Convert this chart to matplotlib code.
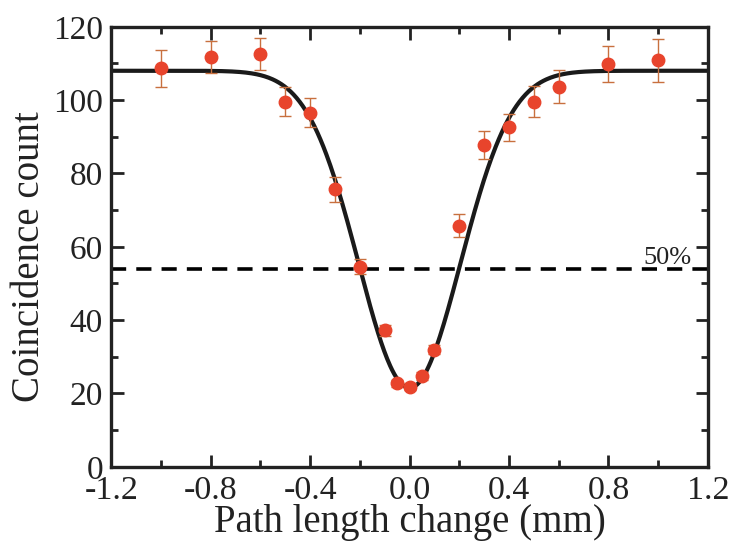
import numpy as np
import matplotlib
matplotlib.use("Agg")
import matplotlib.pyplot as plt
from matplotlib.ticker import MultipleLocator

plt.rcParams['font.family'] = ['Liberation Serif', 'DejaVu Serif']

# measured coincidence counts
path_mm = [-1.0, -0.8, -0.6, -0.5, -0.4, -0.3, -0.2, -0.1, -0.05, 0.0, 0.05, 0.1,
           0.2, 0.3, 0.4, 0.5, 0.6, 0.8, 1.0]
counts = [108.7, 111.7, 112.6, 99.6, 96.6, 75.7, 54.6, 37.2, 22.8, 21.9, 24.8, 31.9,
          65.8, 87.7, 92.6, 99.6, 103.7, 109.8, 110.8]
errors = [5.0, 4.4, 4.4, 3.9, 4.0, 3.4, 2.0, 1.5, 1.0, 1.0, 1.0, 1.2,
          3.2, 3.8, 3.7, 4.2, 4.4, 4.9, 5.9]

# gaussian dip fit parameters
fit_base = 108.0
fit_depth = 86.5
fit_center = 0.0
fit_sigma = 0.205
half_level = 54.0

red = '#E8442C'
err_color = '#C8703E'
ink = '#222222'

fig = plt.figure(figsize=(7.32, 5.46), dpi=100)
ax = fig.add_axes([0.152, 0.145, 0.815, 0.806])

xf = np.linspace(-1.2, 1.2, 600)
yf = fit_base - fit_depth * np.exp(-(xf - fit_center) ** 2 / (2 * fit_sigma ** 2))

ax.axhline(half_level, color='black', lw=2.6, ls=(0, (4.2, 2.8)), zorder=1)
ax.plot(xf, yf, color='#1a1a1a', lw=3.0, zorder=2)
ax.errorbar(path_mm, counts, yerr=errors, fmt='o', color=red, ms=9,
            ecolor=err_color, elinewidth=1.0, capsize=4, capthick=1.0, zorder=3)

ax.text(0.94, 55.4, '50%', fontsize=19, ha='left', va='baseline', color=ink)

ax.set_xlim(-1.2, 1.2)
ax.set_ylim(0, 120)
ax.xaxis.set_major_locator(MultipleLocator(0.4))
ax.xaxis.set_minor_locator(MultipleLocator(0.2))
ax.yaxis.set_major_locator(MultipleLocator(20))
ax.yaxis.set_minor_locator(MultipleLocator(10))
ax.set_xticks(ax.get_xticks())
ax.set_xticklabels([f'{v:.1f}' for v in ax.get_xticks()])
ax.set_xlim(-1.2, 1.2)

ax.tick_params(which='both', direction='in', top=True, right=True, width=2, labelsize=24,
               colors=ink)
ax.tick_params(which='major', length=9, pad=6)
ax.tick_params(which='minor', length=5)
ax.tick_params(axis='x', labelsize=24.5)
for s in ax.spines.values():
    s.set_linewidth(2.4)
    s.set_color(ink)

ax.set_xlabel('Path length change (mm)', fontsize=28, labelpad=-1, color=ink)
ax.set_ylabel('Coincidence count', fontsize=28, color=ink)
ax.yaxis.set_label_coords(-0.106, 0.477)

fig.savefig('out.png', dpi=100)
